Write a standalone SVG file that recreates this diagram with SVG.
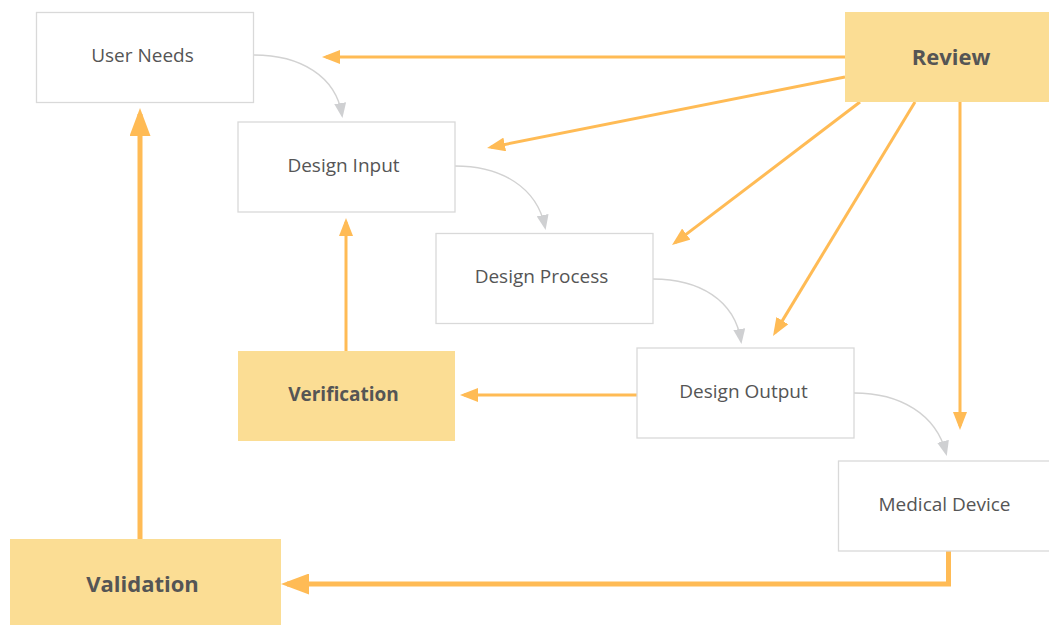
<svg xmlns="http://www.w3.org/2000/svg" width="1049" height="625" viewBox="0 0 1049 625">
  <style>
    .box { fill: #ffffff; stroke: #d9d9d9; stroke-width: 1.3; }
    .key { fill: #fbdd94; stroke: none; }
    .lbl { font-family: "Open Sans", "Noto Sans", sans-serif; font-size: 19px; fill: #555555; text-anchor: middle; }
    .bold { font-weight: bold; }
    .big { font-size: 22px; }
    .flow { fill: none; stroke: #d2d2d2; stroke-width: 1.4; marker-end: url(#headGray); }
    .ctl { fill: none; stroke: #ffbb55; stroke-width: 3; marker-end: url(#headSmall); }
    .ctlBig { fill: none; stroke: #ffbb55; stroke-width: 5; marker-end: url(#headBig); }
  </style>
  <defs>
    <marker id="headGray" markerUnits="userSpaceOnUse" markerWidth="15" markerHeight="12" refX="12" refY="6" orient="auto" viewBox="0 0 15 12">
      <path d="M0,0 L15,6 L0,12 Z" fill="#cfd0d2"/>
    </marker>
    <marker id="headSmall" markerUnits="userSpaceOnUse" markerWidth="18" markerHeight="14" refX="14" refY="7" orient="auto" viewBox="0 0 18 14">
      <path d="M0,0 L18,7 L0,14 Z" fill="#ffbb55"/>
    </marker>
    <marker id="headBig" markerUnits="userSpaceOnUse" markerWidth="28" markerHeight="21" refX="22" refY="10.5" orient="auto" viewBox="0 0 28 21">
      <path d="M0,0 L28,10.5 L0,21 Z" fill="#ffbb55"/>
    </marker>
  </defs>

  <!-- connectors -->
  <g id="connectors">
    <!-- design flow -->
    <path class="flow" d="M254,55 C300,55 336,76 342,115"/>
    <path class="flow" d="M455,166 C501,166 537,187 545,227"/>
    <path class="flow" d="M653,279 C699,279 735,300 741,341"/>
    <path class="flow" d="M854,393 C900,393 936,414 946,453"/>
    <!-- review links -->
    <path class="ctl" d="M845,57 H326"/>
    <path class="ctl" d="M845,77 L491,147.2"/>
    <path class="ctl" d="M860,102 L675.2,242.6"/>
    <path class="ctl" d="M915,102 L775.1,332.6"/>
    <path class="ctl" d="M960,102 V426"/>
    <!-- verification links -->
    <path class="ctl" d="M637,395 H464"/>
    <path class="ctl" d="M346,351 V222"/>
    <!-- validation links -->
    <path class="ctlBig" d="M140,539 V114"/>
    <path class="ctlBig" d="M948.5,551 V584 H287"/>
  </g>

  <g id="user-needs">
    <rect class="box" x="36.5" y="12.5" width="217" height="90"/>
    <text class="lbl" x="142.5" y="62">User Needs</text>
  </g>
  <g id="design-input">
    <rect class="box" x="238" y="122" width="217" height="90"/>
    <text class="lbl" x="343.5" y="172">Design Input</text>
  </g>
  <g id="design-process">
    <rect class="box" x="436" y="233.5" width="217" height="90"/>
    <text class="lbl" x="541.5" y="283">Design Process</text>
  </g>
  <g id="design-output">
    <rect class="box" x="637" y="348" width="217" height="90"/>
    <text class="lbl" x="743.5" y="398">Design Output</text>
  </g>
  <g id="medical-device">
    <rect class="box" x="838.5" y="461" width="218" height="90"/>
    <text class="lbl" x="944.5" y="511">Medical Device</text>
  </g>
  <g id="review">
    <rect class="key" x="845" y="12" width="218" height="90"/>
    <text class="lbl bold big" x="951" y="65">Review</text>
  </g>
  <g id="verification">
    <rect class="key" x="238" y="351" width="217" height="90"/>
    <text class="lbl bold" x="343.5" y="401">Verification</text>
  </g>
  <g id="validation">
    <rect class="key" x="10" y="539" width="271" height="90"/>
    <text class="lbl bold big" x="142.5" y="592">Validation</text>
  </g>
</svg>
